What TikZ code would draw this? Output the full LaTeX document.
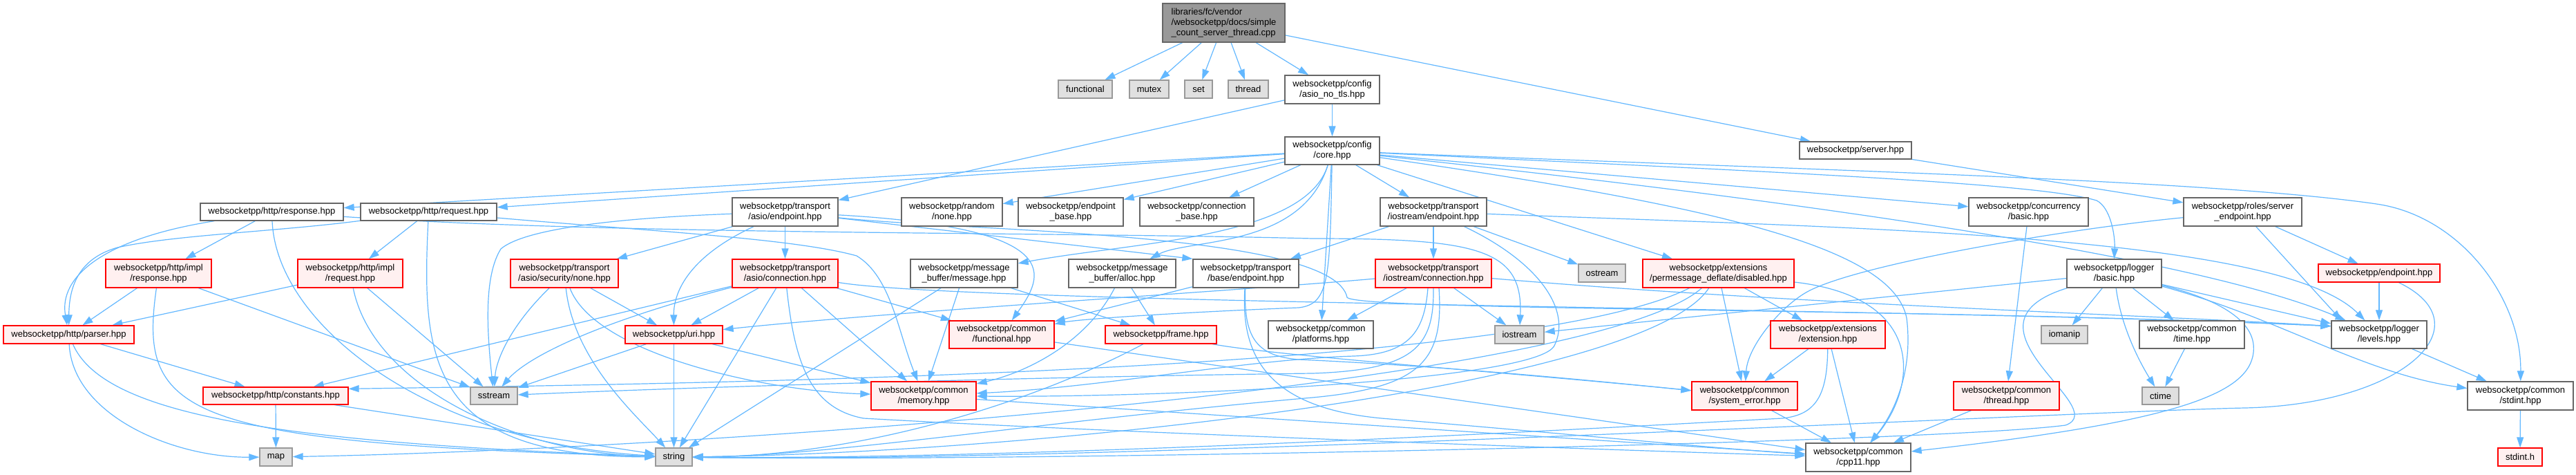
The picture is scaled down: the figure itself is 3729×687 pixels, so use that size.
\documentclass[tikz,border=0pt]{standalone}
\usepackage{fontspec}
\setmainfont{Liberation Sans}
\usetikzlibrary{arrows.meta}
\definecolor{edgec}{HTML}{63B8FF}
\definecolor{wbd}{HTML}{666666}
\definecolor{gbd}{HTML}{999999}
\definecolor{gfill}{HTML}{E0E0E0}
\definecolor{rfill}{HTML}{FFF0F0}
\definecolor{rootfill}{HTML}{999999}
\pgfdeclarelayer{edgelayer}
\pgfsetlayers{edgelayer,main}
\tikzset{
  nb/.style={rectangle, line width=1.3pt, inner sep=0pt, align=center, font=\fontsize{13}{15}\selectfont, text=black},
  wbox/.style={nb, draw=wbd, fill=white},
  gbox/.style={nb, draw=gbd, fill=gfill},
  rbox/.style={nb, draw=red, fill=rfill},
  rootbox/.style={nb, draw=wbd, fill=rootfill, align=left},
  dep/.style={draw=edgec, line width=1.2pt, -{Triangle[length=15pt,width=10pt]}},
  sz/.style 2 args={minimum width=#1pt, minimum height=#2pt}
}
\begin{document}
\begin{tikzpicture}[x=1pt,y=1pt]
\useasboundingbox (0,0) rectangle (3729,-687);
% nodes
\node[rootbox, sz={177}{56}] (root) at (1771.5,-33) {libraries/fc/vendor\\/websocketpp/docs/simple\\\_count\_server\_thread.cpp};
\node[gbox, sz={78}{26}] (functional) at (1571,-129) {functional};
\node[gbox, sz={57}{26}] (mutex) at (1663.5,-129) {mutex};
\node[gbox, sz={40}{26}] (set) at (1735,-129) {set};
\node[gbox, sz={58}{26}] (thread) at (1807,-129) {thread};
\node[wbox, sz={137}{41}] (asionotls) at (1928.5,-129.5) {websocketpp/config\\/asio\_no\_tls.hpp};
\node[wbox, sz={162}{25}] (server) at (2686,-217.5) {websocketpp/server.hpp};
\node[wbox, sz={137}{40}] (core) at (1928.5,-218) {websocketpp/config\\/core.hpp};
\node[wbox, sz={207}{25}] (response) at (393.5,-306.5) {websocketpp/http/response.hpp};
\node[wbox, sz={197}{25}] (request) at (620.5,-306.5) {websocketpp/http/request.hpp};
\node[wbox, sz={153}{41}] (asioep) at (1136.5,-306.5) {websocketpp/transport\\/asio/endpoint.hpp};
\node[wbox, sz={146}{41}] (rnone) at (1378,-306.5) {websocketpp/random\\/none.hpp};
\node[wbox, sz={152}{41}] (epbase) at (1550,-306.5) {websocketpp/endpoint\\\_base.hpp};
\node[wbox, sz={165}{41}] (connbase) at (1732.5,-306.5) {websocketpp/connection\\\_base.hpp};
\node[wbox, sz={154}{41}] (ioep) at (2075,-306.5) {websocketpp/transport\\/iostream/endpoint.hpp};
\node[wbox, sz={173}{41}] (conc) at (2936.5,-306.5) {websocketpp/concurrency\\/basic.hpp};
\node[wbox, sz={171}{41}] (rse) at (3246.5,-306.5) {websocketpp/roles/server\\\_endpoint.hpp};
\node[rbox, sz={153}{41}] (iresp) at (229.5,-395.5) {websocketpp/http/impl\\/response.hpp};
\node[rbox, sz={152}{41}] (ireq) at (507,-395.5) {websocketpp/http/impl\\/request.hpp};
\node[rbox, sz={156}{41}] (secnone) at (817,-395.5) {websocketpp/transport\\/asio/security/none.hpp};
\node[rbox, sz={153}{41}] (asioconn) at (1136.5,-395.5) {websocketpp/transport\\/asio/connection.hpp};
\node[wbox, sz={155}{41}] (message) at (1395.5,-395.5) {websocketpp/message\\\_buffer/message.hpp};
\node[wbox, sz={155}{41}] (alloc) at (1624.5,-395.5) {websocketpp/message\\\_buffer/alloc.hpp};
\node[wbox, sz={153}{41}] (baseep) at (1803.5,-395.5) {websocketpp/transport\\/base/endpoint.hpp};
\node[rbox, sz={168}{41}] (iocon) at (2075,-395.5) {websocketpp/transport\\/iostream/connection.hpp};
\node[gbox, sz={68}{26}] (ostream) at (2319,-395) {ostream};
\node[rbox, sz={219}{41}] (pmd) at (2487.5,-395.5) {websocketpp/extensions\\/permessage\_deflate/disabled.hpp};
\node[wbox, sz={137}{41}] (logbasic) at (3060.5,-395.5) {websocketpp/logger\\/basic.hpp};
\node[rbox, sz={176}{26}] (endpoint) at (3444,-395) {websocketpp/endpoint.hpp};
\node[rbox, sz={189}{26}] (parser) at (99.5,-484) {websocketpp/http/parser.hpp};
\node[rbox, sz={141}{26}] (uri) at (975.5,-484) {websocketpp/uri.hpp};
\node[rbox, sz={152}{40}] (cfunctional) at (1450,-484) {websocketpp/common\\/functional.hpp};
\node[rbox, sz={161}{26}] (frame) at (1680.5,-484) {websocketpp/frame.hpp};
\node[wbox, sz={152}{40}] (platforms) at (1912,-484) {websocketpp/common\\/platforms.hpp};
\node[gbox, sz={71}{26}] (iostream) at (2199.5,-484) {iostream};
\node[rbox, sz={166}{40}] (extension) at (2646,-484) {websocketpp/extensions\\/extension.hpp};
\node[gbox, sz={67}{26}] (iomanip) at (2988.5,-484) {iomanip};
\node[wbox, sz={152}{40}] (time) at (3173,-484) {websocketpp/common\\/time.hpp};
\node[wbox, sz={138}{40}] (levels) at (3444,-484) {websocketpp/logger\\/levels.hpp};
\node[rbox, sz={210}{25}] (constants) at (399,-572.5) {websocketpp/http/constants.hpp};
\node[gbox, sz={68}{25}] (sstream) at (715,-572.5) {sstream};
\node[rbox, sz={152}{41}] (memory) at (1337,-572.5) {websocketpp/common\\/memory.hpp};
\node[rbox, sz={153}{41}] (syserr) at (2525.5,-572.5) {websocketpp/common\\/system\_error.hpp};
\node[rbox, sz={153}{41}] (cthread) at (2904.5,-572.5) {websocketpp/common\\/thread.hpp};
\node[gbox, sz={53}{25}] (ctime) at (3127.5,-572.5) {ctime};
\node[wbox, sz={153}{41}] (stdint) at (3648.5,-572.5) {websocketpp/common\\/stdint.hpp};
\node[gbox, sz={47}{26}] (map) at (399.5,-661) {map};
\node[gbox, sz={53}{26}] (string) at (975.5,-661) {string};
\node[wbox, sz={152}{41}] (cpp11) at (2690,-661.5) {websocketpp/common\\/cpp11.hpp};
\node[rbox, sz={64}{26}] (stdinth) at (3648,-661) {stdint.h};
\begin{pgfonlayer}{edgelayer}
\fill[white] (0,0) rectangle (3729,-687);
% root
\draw[dep] (root) -- (functional);
\draw[dep] (root) -- (mutex);
\draw[dep] (root) -- (set);
\draw[dep] (root) -- (thread);
\draw[dep] (root) -- (asionotls);
\draw[dep] (root) -- (server);
\draw[dep] (asionotls) -- (core);
\draw[dep] (asionotls) -- (asioep);
\draw[dep] (server) -- (rse);
% core
\draw[dep] (core) -- (response);
\draw[dep] (core) -- (request);
\draw[dep] (core) -- (rnone);
\draw[dep] (core) -- (epbase);
\draw[dep] (core) -- (connbase);
\draw[dep] (core) .. controls (1890,-345) and (1640,-350) .. (message);
\draw[dep] (core) .. controls (1885,-360) and (1720,-345) .. (alloc);
\draw[dep] (core) .. controls (1925,-400) and (1925,-440) .. (1880,-445) .. controls (1700,-452) and (1560,-462) .. (cfunctional);
\draw[dep] (core) -- (platforms);
\draw[dep] (core) -- (ioep);
\draw[dep] (core) -- (conc);
\draw[dep] (core) .. controls (2600,-250) and (2950,-265) .. (3035,-290) .. controls (3055,-300) and (3062,-340) .. (logbasic.north);
\draw[dep] (core) .. controls (2700,-300) and (3200,-380) .. (levels);
\draw[dep] (core) .. controls (2600,-245) and (3200,-260) .. (3440,-295) .. controls (3560,-312) and (3650,-430) .. (stdint);
\draw[dep] (core) -- (pmd);
\draw[dep] (core) .. controls (2500,-300) and (2740,-360) .. (2760,-460) .. controls (2770,-540) and (2740,-600) .. (cpp11);
% http
\draw[dep] (response) .. controls (150,-345) and (85,-400) .. (parser);
\draw[dep] (response) -- (iresp);
\draw[dep] (response) .. controls (400,-470) and (620,-640) .. (string);
\draw[dep] (response) .. controls (900,-340) and (1500,-335) .. (1900,-345) .. controls (2140,-345) and (2205,-360) .. (iostream);
\draw[dep] (request) .. controls (400,-335) and (250,-340) .. (170,-358) .. controls (110,-375) and (100,-420) .. (parser);
\draw[dep] (request) -- (ireq);
\draw[dep] (request) .. controls (610,-520) and (620,-660) .. (string);
\draw[dep] (request) .. controls (950,-335) and (1150,-345) .. (1240,-370) .. controls (1290,-400) and (1300,-480) .. (memory);
\draw[dep] (iresp) -- (parser);
\draw[dep] (iresp) .. controls (200,-600) and (260,-640) .. (string);
\draw[dep] (iresp) -- (sstream);
\draw[dep] (ireq) -- (parser);
\draw[dep] (ireq) .. controls (540,-560) and (750,-655) .. (string);
\draw[dep] (ireq) -- (sstream);
\draw[dep] (parser) .. controls (105,-600) and (250,-662) .. (map);
\draw[dep] (parser) .. controls (150,-600) and (400,-640) .. (string);
\draw[dep] (parser) -- (constants);
\draw[dep] (constants) -- (map);
\draw[dep] (constants) -- (string);
% asio endpoint
\draw[dep] (asioep) -- (secnone);
\draw[dep] (asioep) -- (asioconn);
\draw[dep] (asioep) .. controls (900,-315) and (760,-330) .. (725,-360) .. controls (700,-400) and (705,-480) .. (sstream);
\draw[dep] (asioep) .. controls (1000,-370) and (975,-420) .. (uri);
\draw[dep] (asioep) -- (baseep.north west);
\draw[dep] (asioep) .. controls (1400,-335) and (1930,-335) .. (1950,-430) .. controls (1960,-450) and (2800,-445) .. (levels.170);
\draw[dep] (asioep) .. controls (1550,-330) and (1510,-400) .. (cfunctional);
% asio connection
\draw[dep] (asioconn) -- (constants);
\draw[dep] (asioconn) .. controls (850,-470) and (760,-520) .. (sstream);
\draw[dep] (asioconn) -- (uri);
\draw[dep] (asioconn) -- (string);
\draw[dep] (asioconn) -- (memory);
\draw[dep] (asioconn) .. controls (1150,-520) and (1170,-590) .. (1250,-605) .. controls (1600,-625) and (2300,-650) .. (cpp11);
\draw[dep] (asioconn) .. controls (1400,-440) and (2800,-445) .. (levels.170);
\draw[dep] (asioconn) -- (cfunctional);
% security none
\draw[dep] (secnone) .. controls (740,-470) and (718,-520) .. (sstream);
\draw[dep] (secnone) .. controls (830,-520) and (920,-600) .. (string);
\draw[dep] (secnone) -- (uri);
\draw[dep] (secnone) .. controls (860,-510) and (1100,-565) .. (memory);
% uri
\draw[dep] (uri) -- (sstream);
\draw[dep] (uri) -- (string);
\draw[dep] (uri) -- (memory);
% iostream endpoint
\draw[dep] (ioep) .. controls (2230,-380) and (2275,-450) .. (2250,-500) .. controls (2225,-550) and (1700,-575) .. (memory);
\draw[dep] (ioep) .. controls (2700,-330) and (3300,-340) .. (levels);
\draw[dep] (ioep) -- (baseep);
\draw[dep] (ioep) -- (iocon);
\draw[dep] (ioep) -- (ostream);
% iostream connection
\draw[dep] (iocon) .. controls (1800,-420) and (1300,-450) .. (uri);
\draw[dep] (iocon) -- (platforms);
\draw[dep] (iocon) -- (iostream);
\draw[dep] (iocon) .. controls (2600,-440) and (3100,-455) .. (levels.170);
\draw[dep] ([xshift=-8pt]iocon.south) .. controls (2062,-480) and (2040,-512) .. (1960,-515) .. controls (1800,-520) and (1600,-560) .. (memory);
\draw[dep] (iocon.south) .. controls (2076,-500) and (2050,-535) .. (1900,-540) .. controls (1500,-545) and (1000,-560) .. (sstream);
\draw[dep] ([xshift=8pt]iocon.south) .. controls (2090,-520) and (2060,-560) .. (1900,-575) .. controls (1500,-610) and (1200,-660) .. (string);
% base endpoint
\draw[dep] (baseep) -- (cfunctional);
\draw[dep] (baseep) .. controls (1800,-490) and (1820,-515) .. (1880,-520) .. controls (2100,-530) and (2300,-550) .. (syserr);
\draw[dep] (baseep) .. controls (1795,-520) and (1840,-590) .. (2000,-605) .. controls (2300,-630) and (2500,-650) .. (cpp11);
% message buffer
\draw[dep] (message) -- (string);
\draw[dep] (message) -- (memory);
\draw[dep] (message) -- (frame);
\draw[dep] (alloc) .. controls (1570,-500) and (1480,-540) .. (memory);
\draw[dep] (alloc) -- (frame);
% common
\draw[dep] (cfunctional) -- (cpp11);
\draw[dep] (frame) .. controls (1500,-580) and (1250,-660) .. (string);
\draw[dep] (frame) .. controls (1850,-515) and (2200,-540) .. (syserr);
\draw[dep] (memory) -- (cpp11);
\draw[dep] (syserr) -- (cpp11);
% permessage deflate
\draw[dep] (pmd) -- (syserr);
\draw[dep] (pmd) -- (extension);
\draw[dep] (pmd) .. controls (2790,-430) and (2775,-560) .. (cpp11);
\draw[dep] (pmd) .. controls (2380,-560) and (1500,-655) .. (string);
\draw[dep] (pmd) .. controls (2300,-560) and (1000,-650) .. (map);
\draw[dep] (pmd) .. controls (2200,-540) and (1000,-555) .. ([yshift=-3pt]constants.north east);
\draw[dep] (extension) -- (syserr);
\draw[dep] (extension) -- (cpp11);
\draw[dep] (extension) .. controls (2645,-570) and (2630,-600) .. (2580,-605) .. controls (2300,-620) and (1500,-665) .. (string);
% concurrency
\draw[dep] (conc) -- (cthread);
\draw[dep] (cthread) -- (cpp11);
% logger
\draw[dep] (logbasic) -- (iostream);
\draw[dep] (logbasic) -- (iomanip);
\draw[dep] (logbasic) .. controls (3070,-470) and (3095,-520) .. (ctime);
\draw[dep] (logbasic) -- (time);
\draw[dep] (logbasic) -- (levels);
\draw[dep] (logbasic) .. controls (3300,-460) and (3420,-540) .. (stdint);
\draw[dep] (logbasic) .. controls (2820,-470) and (3060,-590) .. (2990,-615) .. controls (2800,-640) and (1500,-668) .. (string);
\draw[dep] (logbasic) .. controls (3200,-430) and (3268,-460) .. (3262,-510) .. controls (3255,-570) and (3150,-610) .. (cpp11);
\draw[dep] (time) -- (ctime);
\draw[dep] (levels) -- (stdint);
% roles
\draw[dep] (rse) -- (endpoint);
\draw[dep] (rse) -- ([xshift=15pt]levels.north west);
\draw[dep] (rse) .. controls (3000,-330) and (2700,-380) .. (2620,-420) .. controls (2580,-440) and (2530,-500) .. (syserr);
\draw[dep] (endpoint) -- (levels);
\draw[dep] (endpoint) .. controls (3600,-470) and (3480,-585) .. (3250,-590) .. controls (3000,-595) and (1600,-670) .. (string);
\draw[dep] (stdint) -- (stdinth);
\end{pgfonlayer}
\end{tikzpicture}
\end{document}
